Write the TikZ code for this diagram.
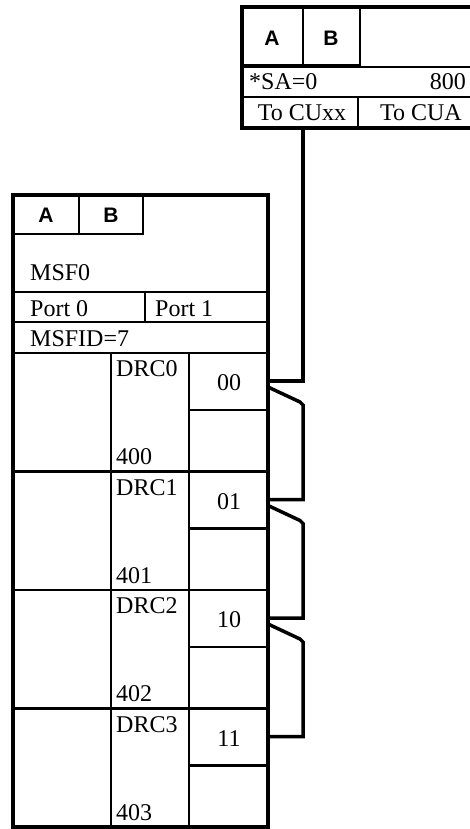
\documentclass[tikz,border=0pt]{standalone}
\usepackage{fontspec}
\setmainfont{Liberation Serif}
\newfontfamily\absans{Liberation Sans}
\begin{document}
\begin{tikzpicture}[x=1pt,y=-1pt,
  outer/.style={line width=4pt, line join=miter},
  inner/.style={line width=2.8pt},
  wire/.style={line width=3.5pt, line join=miter},
  txt/.style={inner sep=0pt, font=\fontsize{24}{24}\selectfont},
  abtxt/.style={inner sep=0pt, font=\fontsize{21}{21}\selectfont\absans\bfseries}]
\useasboundingbox (0,0) rectangle (470,829);
% ---- top box (control unit) ----
\draw[outer] (242,7) rectangle (485,128);
\draw[inner] (242,65) -- (360,65) -- (360,7);
\draw[inner] (303,7) -- (303,65);
\draw[inner] (242,67) -- (485,67);
\draw[inner] (242,97) -- (485,97);
\draw[inner] (358,97) -- (358,128);
\node[abtxt] (tA) at (272,38) {A};
\node[abtxt] (tB) at (331,38) {B};
\node[txt,anchor=west] (sa) at (249,82) {*SA=0};
\node[txt,anchor=east] (n800) at (466,82) {800};
\node[txt] (cuxx) at (302,113) {To CUxx};
\node[txt] (cua) at (421,113) {To CUA};
\coordinate (topout) at (303,128);
% ---- lower box (MSF) ----
\draw[outer] (13,195) rectangle (268,827);
\draw[inner] (13,234) -- (143,234) -- (143,195);
\draw[inner] (79,195) -- (79,234);
\node[abtxt] (lA) at (46,215) {A};
\node[abtxt] (lB) at (111,215) {B};
\node[txt,anchor=west] (msf) at (30,273) {MSF0};
\draw[inner] (13,292) -- (268,292);
\draw[inner] (145,292) -- (145,322);
\draw[inner] (13,322) -- (268,322);
\draw[inner] (13,353) -- (268,353);
\node[txt,anchor=west] (p0) at (30,309) {Port 0};
\node[txt,anchor=west] (p1) at (155,309) {Port 1};
\node[txt,anchor=west] (msfid) at (30,339) {MSFID=7};
\draw[inner] (111,353) -- (111,827);
\draw[inner] (189,353) -- (189,827);
\foreach \i/\lab/\num [evaluate=\i as \top using 353+118.5*\i] in {0/00/400,1/01/401,2/10/402,3/11/403}{
  \ifnum\i>0 \draw[inner] (13,\top) -- (268,\top); \fi
  \draw[inner] (189,\top+57) -- (268,\top+57);
  \node[txt,anchor=west] (drc\i) at (116,\top+16) {DRC\i};
  \node[txt,anchor=west] (addr\i) at (116,\top+104) {\num};
  \node[txt] (port\i) at (229,\top+30) {\lab};
  \coordinate (j\i) at (268,\top+28);
  \coordinate (d\i) at (268,\top+34);
}
% ---- connector ----
\draw[wire] (topout) -- (topout |- j0) -- (j0);
\foreach \a/\b in {0/1,1/2,2/3}{
  \draw[wire] (d\a) -- ([xshift=-3pt,yshift=-15pt]topout |- d\a) -- ([yshift=-18pt]topout |- d\a) -- (topout |- j\b) -- (j\b);
}
\end{tikzpicture}
\end{document}
